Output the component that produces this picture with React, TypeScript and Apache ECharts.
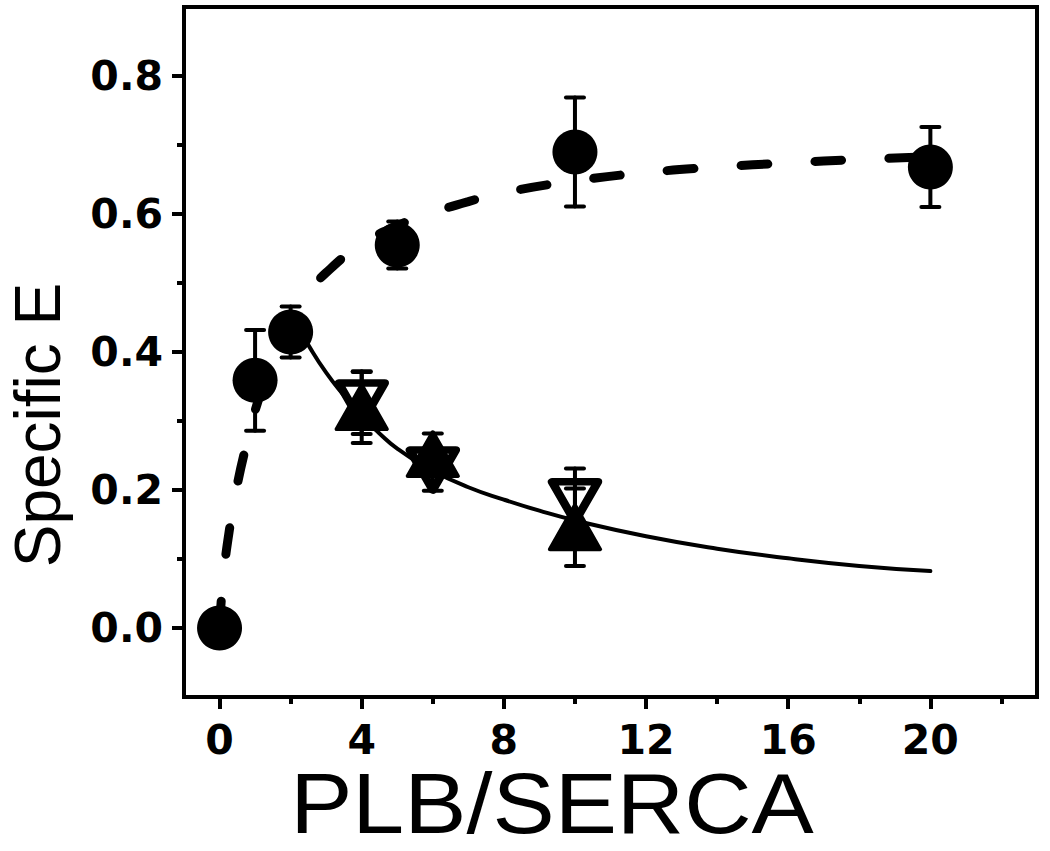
import React, { useEffect, useRef } from "react";
import * as echarts from "echarts";

// Filled circles (with error bars)
const circleX = [0, 1, 2, 5, 10, 20];
const circleY = [0, 0.359, 0.429, 0.555, 0.69, 0.668];
const circleErr = [0, 0.073, 0.037, 0.034, 0.079, 0.058];

// Triangles
const triX = [4, 6, 10];
const upY = [0.32, 0.252, 0.146];
const upErr = [0.052, 0.03, 0.056];
const downY = [0.326, 0.229, 0.183];
const downErr = [0.045, 0.03, 0.048];

// Dashed curve
const dashX = [0, 0.1, 0.3, 0.5, 0.75, 1.0, 1.5, 2.0, 2.5, 3.0, 4.0, 5.0, 6.0, 7.0, 8.0, 10.0, 12.0, 14.0, 16.0, 18.0, 20.0];
const dashY = [0, 0.07, 0.15, 0.208, 0.265, 0.315, 0.39, 0.445, 0.485, 0.515, 0.556, 0.583, 0.602, 0.618, 0.631, 0.648, 0.66, 0.668, 0.674, 0.679, 0.683];

// Solid curve
const fitX = [2.05, 2.5, 3.0, 3.5, 4.0, 4.5, 5.0, 6.0, 7.0, 8.0, 9.0, 10.0, 12.0, 14.0, 16.0, 18.0, 20.0];
const fitY = [0.45, 0.41, 0.37, 0.337, 0.307, 0.282, 0.26, 0.228, 0.204, 0.186, 0.17, 0.156, 0.133, 0.115, 0.101, 0.09, 0.0825];

// Ticks
const xMajor = [0, 4, 8, 12, 16, 20];
const xMinor = [2, 6, 10, 14, 18, 22];
const yMajor = [0, 0.2, 0.4, 0.6, 0.8];
const yMinor = [0.1, 0.3, 0.5, 0.7];

const xTitle = "PLB/SERCA";
const yTitle = "Specific E";

export default function App() {
  const ref = useRef<HTMLDivElement>(null);
  useEffect(() => {
    if (!ref.current) return;
    const chart = echarts.init(ref.current, null, { renderer: "svg" });
    const zip = (xs: number[], ys: number[]) => xs.map((x, i) => [x, ys[i]]);
    const errData = [
      ...circleX.map((x, i) => [x, circleY[i], circleErr[i]]),
      ...triX.map((x, i) => [x, upY[i], upErr[i]]),
      ...triX.map((x, i) => [x, downY[i], downErr[i]]),
    ];
    const tickLabelStyle = {
      fontFamily: "DejaVu Sans",
      fontWeight: "bold" as const,
      fontSize: 41,
      lineHeight: 41,
      color: "#000",
    };
    const option: any = {
      animation: false,
      backgroundColor: "#fff",
      grid: {
        left: 184,
        right: 13,
        top: 7,
        bottom: 154,
        show: true,
        borderColor: "#000",
        borderWidth: 4,
        backgroundColor: "transparent",
      },
      xAxis: [
        {
          type: "value",
          min: -1,
          max: 23,
          position: "bottom",
          axisLine: { show: true, onZero: false, lineStyle: { color: "#000", width: 4 } },
          axisTick: { show: true, length: 12, customValues: xMajor, lineStyle: { color: "#000", width: 4 } },
          axisLabel: { ...tickLabelStyle, customValues: xMajor, margin: 22 },
          splitLine: { show: false },
        },
        {
          type: "value",
          min: -1,
          max: 23,
          position: "bottom",
          axisLine: { show: false, onZero: false },
          axisTick: { show: true, length: 7, customValues: xMinor, lineStyle: { color: "#000", width: 4 } },
          axisLabel: { show: false },
          splitLine: { show: false },
        },
      ],
      yAxis: [
        {
          type: "value",
          min: -0.1,
          max: 0.9,
          position: "left",
          axisLine: { show: true, onZero: false, lineStyle: { color: "#000", width: 4 } },
          axisTick: { show: true, length: 12, customValues: yMajor, lineStyle: { color: "#000", width: 4 } },
          axisLabel: {
            ...tickLabelStyle,
            customValues: yMajor,
            margin: 21,
            formatter: (v: number) => Number(v).toFixed(1),
          },
          splitLine: { show: false },
        },
        {
          type: "value",
          min: -0.1,
          max: 0.9,
          position: "left",
          offset: 0,
          axisLine: { show: false, onZero: false },
          axisTick: { show: true, length: 7, customValues: yMinor, lineStyle: { color: "#000", width: 4 } },
          axisLabel: { show: false },
          splitLine: { show: false },
        },
      ],
      graphic: [
        {
          type: "text",
          x: 552,
          y: 803,
          scaleX: 1.085,
          style: {
            text: xTitle,
            fontFamily: "Liberation Sans",
            fontSize: 86,
            lineHeight: 64,
            fill: "#000",
            align: "center",
            verticalAlign: "middle",
            textAlign: "center",
            textVerticalAlign: "middle",
          },
        },
        {
          type: "text",
          x: 38,
          y: 425,
          rotation: Math.PI / 2,
          style: {
            text: yTitle,
            fontFamily: "Liberation Sans",
            fontSize: 64,
            lineHeight: 50,
            fill: "#000",
            align: "center",
            verticalAlign: "middle",
            textAlign: "center",
            textVerticalAlign: "middle",
          },
        },
      ],
      series: [
        {
          type: "line",
          data: zip(dashX, dashY),
          showSymbol: false,
          symbol: "none",
          smooth: 0.5,
          lineStyle: { color: "#000", width: 9, type: [27, 47], cap: "round" },
          z: 2,
        },
        {
          type: "line",
          data: zip(fitX, fitY),
          showSymbol: false,
          symbol: "none",
          smooth: 0.5,
          lineStyle: { color: "#000", width: 4, cap: "round" },
          z: 2,
        },
        {
          type: "scatter",
          data: zip(triX, downY),
          symbol: "triangle",
          symbolRotate: 180,
          symbolSize: [46, 40],
          itemStyle: { color: "#fff", borderColor: "#000", borderWidth: 8, borderJoin: "round", opacity: 1 },
          z: 3,
        },
        {
          type: "custom",
          data: errData,
          encode: { x: 0, y: 1 },
          z: 4,
          renderItem: (params: any, api: any) => {
            const x = api.value(0);
            const y = api.value(1);
            const e = api.value(2);
            const top = api.coord([x, y + e]);
            const bot = api.coord([x, y - e]);
            const hw = 9;
            const st = { stroke: "#000", lineWidth: 4, lineCap: "round" };
            return {
              type: "group",
              children: [
                { type: "line", shape: { x1: top[0], y1: top[1], x2: bot[0], y2: bot[1] }, style: st },
                { type: "line", shape: { x1: top[0] - hw, y1: top[1], x2: top[0] + hw, y2: top[1] }, style: st },
                { type: "line", shape: { x1: bot[0] - hw, y1: bot[1], x2: bot[0] + hw, y2: bot[1] }, style: st },
              ],
            };
          },
        },
        {
          type: "scatter",
          data: zip(circleX, circleY),
          symbol: "circle",
          symbolSize: 45,
          itemStyle: { color: "#000", opacity: 1 },
          z: 5,
        },
        {
          type: "scatter",
          data: zip(triX, upY),
          symbol: "triangle",
          symbolSize: [50, 44],
          itemStyle: { color: "#000", borderColor: "#000", borderWidth: 4, borderJoin: "round", opacity: 1 },
          z: 6,
        },
      ],
    };
    chart.setOption(option);
    return () => chart.dispose();
  }, []);
  return (
    <div
      ref={ref}
      style={{ position: "fixed", left: 0, top: 0, width: 1050, height: 851, background: "#fff" }}
    />
  );
}
